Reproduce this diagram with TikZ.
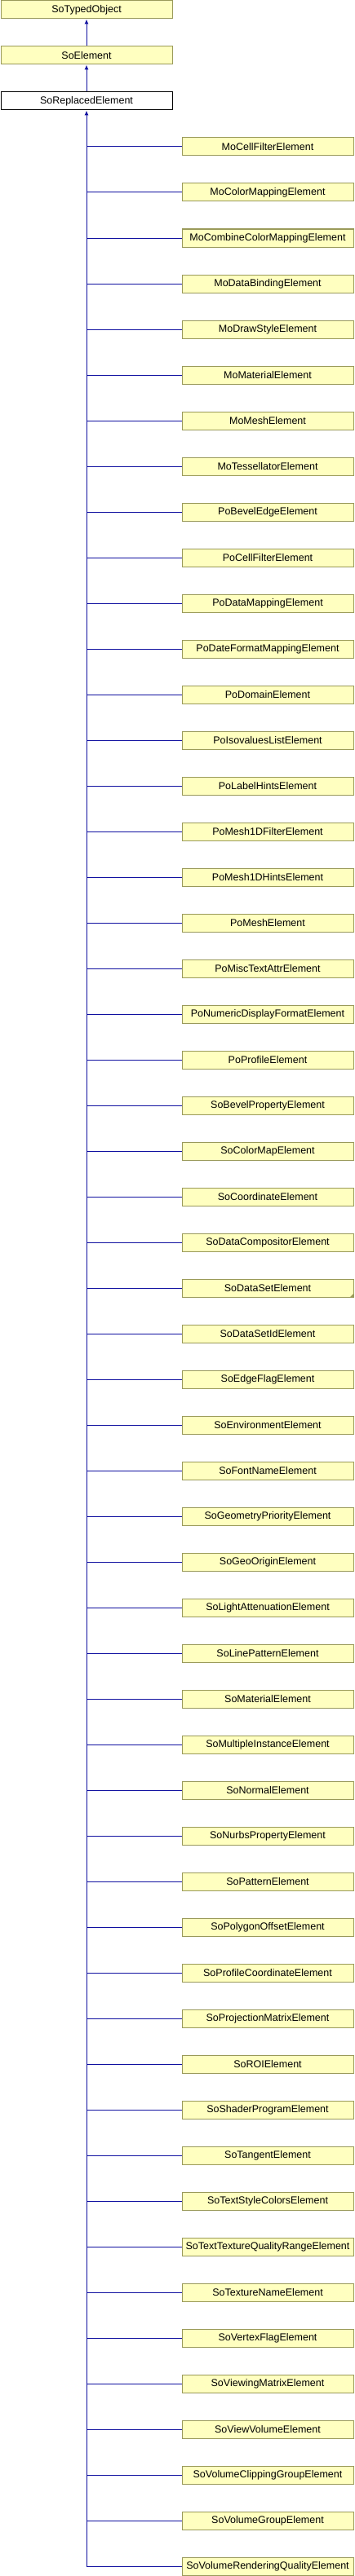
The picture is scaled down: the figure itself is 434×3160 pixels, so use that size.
\documentclass[tikz,border=0pt]{standalone}
\usepackage{fontspec}
\setmainfont{Liberation Sans}
\usetikzlibrary{arrows.meta}
\definecolor{boxfill}{HTML}{FFFFC0}
\definecolor{boxline}{HTML}{9A9A5A}
\definecolor{edgecol}{HTML}{1010A0}
\tikzset{
  cls/.style={draw=boxline, fill=boxfill, line width=1pt, minimum width=210pt, minimum height=22pt, inner sep=0pt, anchor=north west, font=\fontsize{12.5pt}{14pt}\selectfont},
  curcls/.style={cls, draw=black, fill=white},
  edge/.style={draw=edgecol, line width=1pt},
  inh/.style={edge, -{Latex[length=6pt,width=5pt]}}
}
\begin{document}
\begin{tikzpicture}[x=1pt,y=-1pt]
\useasboundingbox (0,0) rectangle (434,3160);
\node[cls] (top) at (0.5,0.5) {SoTypedObject};
\node[cls] (elem) at (0.5,56.5) {SoElement};
\node[curcls] (rep) at (0.5,112.5) {SoReplacedElement};
\draw[inh] (elem.north) -- (top.south);
\draw[inh] (rep.north) -- (elem.south);
\foreach [count=\i] \name in {MoCellFilterElement,MoColorMappingElement,MoCombineColorMappingElement,MoDataBindingElement,MoDrawStyleElement,MoMaterialElement,MoMeshElement,MoTessellatorElement,PoBevelEdgeElement,PoCellFilterElement,PoDataMappingElement,PoDateFormatMappingElement,PoDomainElement,PoIsovaluesListElement,PoLabelHintsElement,PoMesh1DFilterElement,PoMesh1DHintsElement,PoMeshElement,PoMiscTextAttrElement,PoNumericDisplayFormatElement,PoProfileElement,SoBevelPropertyElement,SoColorMapElement,SoCoordinateElement,SoDataCompositorElement,SoDataSetElement,SoDataSetIdElement,SoEdgeFlagElement,SoEnvironmentElement,SoFontNameElement,SoGeometryPriorityElement,SoGeoOriginElement,SoLightAttenuationElement,SoLinePatternElement,SoMaterialElement,SoMultipleInstanceElement,SoNormalElement,SoNurbsPropertyElement,SoPatternElement,SoPolygonOffsetElement,SoProfileCoordinateElement,SoProjectionMatrixElement,SoROIElement,SoShaderProgramElement,SoTangentElement,SoTextStyleColorsElement,SoTextTextureQualityRangeElement,SoTextureNameElement,SoVertexFlagElement,SoViewingMatrixElement,SoViewVolumeElement,SoVolumeClippingGroupElement,SoVolumeGroupElement,SoVolumeRenderingQualityElement}{
  \node[cls] (c\i) at (222.5,{168.5+56*(\i-1)}) {\name};
}
\fill[boxline] ([xshift=-0.5pt,yshift=0.5pt]c26.south east) -- ++(-4,0) -- ++(4,-4) -- cycle;
\draw[inh] (c54.west) -| (rep.south);
\foreach \i in {1,...,53}{
  \draw[edge] (c\i.west) -- (c\i.west -| rep.south);
}
\end{tikzpicture}
\end{document}
